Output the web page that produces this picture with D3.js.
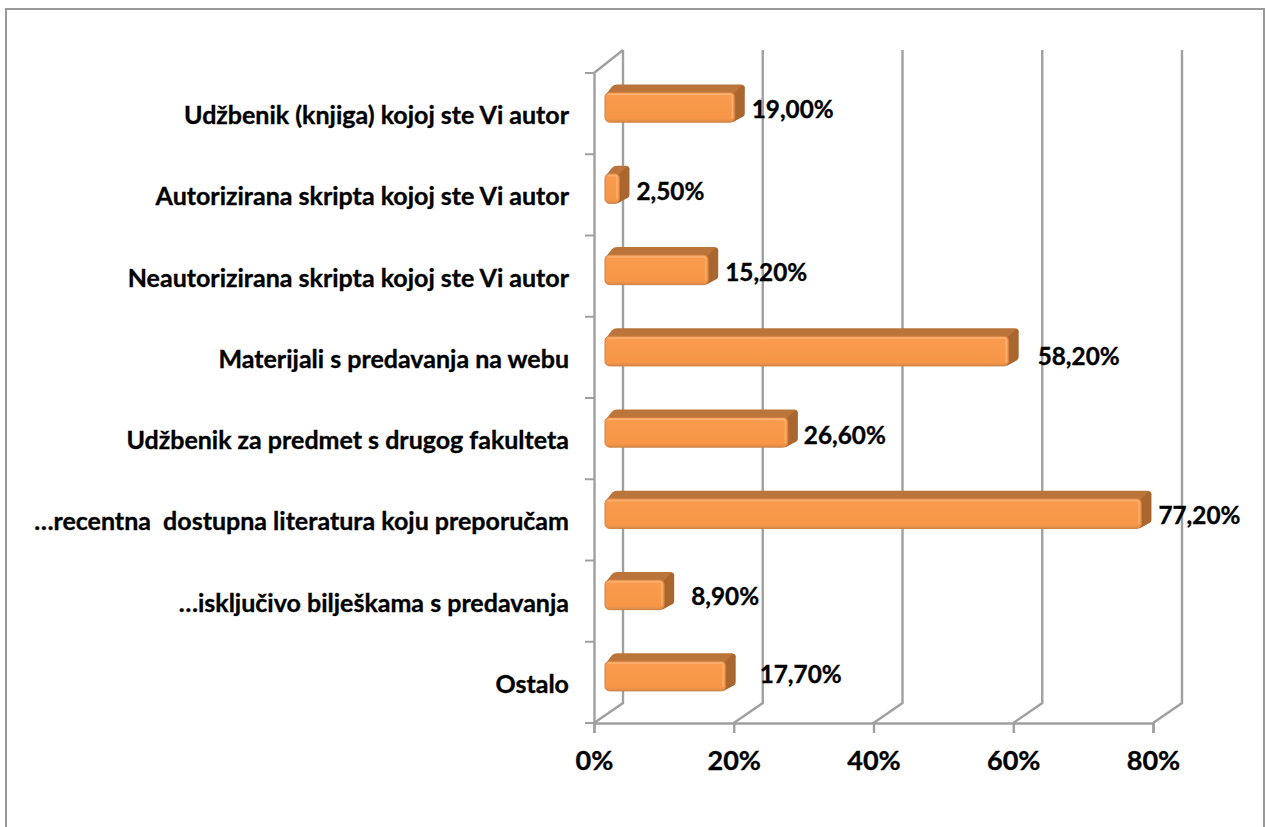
<!DOCTYPE html>
<html>
<head>
<meta charset="utf-8">
<script src="https://cdn.jsdelivr.net/npm/d3@7"></script>
<style>
    html, body { margin: 0; padding: 0; background: #fff; }
    svg { display: block; }
    text { font-family: Lato, Carlito, sans-serif; font-weight: 700; fill: #000; stroke: #000; stroke-width: 0.35px; }
</style>
</head>
<body>
<div id="chart"></div>
<script>
const categories = [
    'Udžbenik (knjiga) kojoj ste Vi autor',
    'Autorizirana skripta kojoj ste Vi autor',
    'Neautorizirana skripta kojoj ste Vi autor',
    'Materijali s predavanja na webu',
    'Udžbenik za predmet s drugog fakulteta',
    '…recentna  dostupna literatura koju preporučam',
    '…isključivo bilješkama s predavanja',
    'Ostalo'
];
const values = [19.0, 2.5, 15.2, 58.2, 26.6, 77.2, 8.9, 17.7];
const valueLabels = ['19,00%', '2,50%', '15,20%', '58,20%', '26,60%', '77,20%', '8,90%', '17,70%'];
const xTicks = [0, 20, 40, 60, 80];

const W = 1266, H = 827;
const plot = { left: 594, right: 1153, top: 73, bottom: 723 };
const depth = { x: 29, y: -20 };
const barDepth = { x: 10, y: -8 };
const gridColor = '#a0a0a0';

// data labels were dragged by hand in the original, so each has its own nudge
const labelNudgeX = [25, 25, 25, 37, 24, 25, 35, 42];
const labelNudgeY = [-4, -3, -4, -1, -3, -4, -5, -8];

const svg = d3.select('#chart').append('svg')
    .attr('width', W)
    .attr('height', H);

const defs = svg.append('defs');
const faceGrad = defs.append('linearGradient')
    .attr('id', 'bar-face')
    .attr('x1', 0).attr('y1', 0).attr('x2', 0).attr('y2', 1);
faceGrad.append('stop').attr('offset', '0%').attr('stop-color', '#fbae6c');
faceGrad.append('stop').attr('offset', '10%').attr('stop-color', '#f99a4d');
faceGrad.append('stop').attr('offset', '88%').attr('stop-color', '#f79646');
faceGrad.append('stop').attr('offset', '100%').attr('stop-color', '#d98a4a');

// chart frame, its bottom edge falls outside the picture
svg.append('path')
    .attr('d', `M6,${H}V9H1264V${H}`)
    .attr('fill', 'none')
    .attr('stroke', '#999999')
    .attr('stroke-width', 2);

const x = d3.scaleLinear()
    .domain([0, 80])
    .range([plot.left, plot.right]);

const y = d3.scaleBand()
    .domain(categories)
    .range([plot.top, plot.bottom]);

const grid = svg.append('g')
    .attr('fill', 'none')
    .attr('stroke', gridColor)
    .attr('stroke-width', 2.4);

// back wall lines and floor diagonals
grid.selectAll('path.wall')
    .data(xTicks)
    .join('path')
    .classed('wall', true)
    .attr('d', d => `M${x(d)},${plot.bottom}L${x(d) + depth.x},${plot.bottom + depth.y}V${plot.top + depth.y - 3}`);

grid.append('path')
    .attr('d', `M${plot.left},${plot.top}L${plot.left + depth.x},${plot.top + depth.y - 3}`);

// x axis
const xAxis = svg.append('g')
    .attr('transform', `translate(0,${plot.bottom})`)
    .call(d3.axisBottom(x).tickValues(xTicks).tickSize(10).tickPadding(18).tickFormat(d => d + '%'));
xAxis.selectAll('line').attr('stroke', gridColor).attr('stroke-width', 2.4);
xAxis.select('.domain').attr('stroke', gridColor).attr('stroke-width', 2.4);
xAxis.selectAll('text').style('font-size', '27px');

// y axis, labels through the axis and ticks on the band edges
const yAxis = svg.append('g')
    .attr('transform', `translate(${plot.left},0)`)
    .call(d3.axisLeft(y).tickSize(0).tickPadding(25));
yAxis.select('.domain').attr('stroke', gridColor).attr('stroke-width', 2.4);
yAxis.selectAll('text')
    .style('font-size', '25px')
    .style('white-space', 'pre')
    .attr('dy', '0.42em');
yAxis.selectAll('line.edge')
    .data(d3.range(categories.length + 1))
    .join('line')
    .classed('edge', true)
    .attr('x1', -9)
    .attr('x2', 0)
    .attr('y1', i => plot.top + i * y.step())
    .attr('y2', i => plot.top + i * y.step())
    .attr('stroke', gridColor)
    .attr('stroke-width', 2);

// bars: box with a side and a top behind a rounded front
const barTop = d => y(d) + y.step() * 0.24;
const barH = y.step() * 0.365;
const barX0 = x(0) + 11;
const barX1 = d => x(values[categories.indexOf(d)]) + 8;

const bars = svg.append('g')
    .selectAll('g')
    .data(categories)
    .join('g');

// top
bars.append('path')
    .attr('fill', '#bb7439')
    .attr('d', d => {
        const t = barTop(d);
        return `M${barX0},${t + 3}L${barX0 + barDepth.x - 3},${t + barDepth.y + 2}Q${barX0 + barDepth.x - 1},${t + barDepth.y} ${barX0 + barDepth.x + 2},${t + barDepth.y}`
            + `H${barX1(d) + barDepth.x - 4}Q${barX1(d) + barDepth.x},${t + barDepth.y} ${barX1(d) + barDepth.x},${t + barDepth.y + 4}L${barX1(d)},${t + 3}Z`;
    });

// side
bars.append('path')
    .attr('fill', '#a9662f')
    .attr('d', d => {
        const t = barTop(d);
        const r = barX1(d) + barDepth.x;
        return `M${barX1(d) - 2},${t + 2}L${r - 3},${t + barDepth.y + 1}Q${r},${t + barDepth.y + 1} ${r},${t + barDepth.y + 4}`
            + `V${t + barH + barDepth.y - 1}Q${r},${t + barH + barDepth.y + 2} ${r - 3},${t + barH + barDepth.y + 3}L${barX1(d) - 2},${t + barH}Z`;
    });

// front
bars.append('rect')
    .attr('x', barX0)
    .attr('y', barTop)
    .attr('width', d => barX1(d) - barX0)
    .attr('height', barH)
    .attr('rx', 4.5)
    .attr('fill', 'url(#bar-face)')
    .attr('stroke', '#cf8042')
    .attr('stroke-width', 1);

// highlight along the top and right of the front
bars.append('path')
    .attr('fill', 'none')
    .attr('stroke', '#fcb57a')
    .attr('stroke-width', 1.2)
    .attr('d', d => {
        const t = barTop(d);
        return `M${barX0 + 3},${t + 2}H${barX1(d) - 4}Q${barX1(d) - 2.5},${t + 2} ${barX1(d) - 2.5},${t + 4}V${t + barH - 4}`;
    });

// value labels
svg.append('g')
    .selectAll('text')
    .data(categories)
    .join('text')
    .attr('x', (d, i) => x(values[i]) + labelNudgeX[i])
    .attr('y', (d, i) => y(d) + y.bandwidth() / 2 + labelNudgeY[i])
    .attr('dy', '0.35em')
    .style('font-size', '24.3px')
    .text((d, i) => valueLabels[i]);
</script>
</body>
</html>
